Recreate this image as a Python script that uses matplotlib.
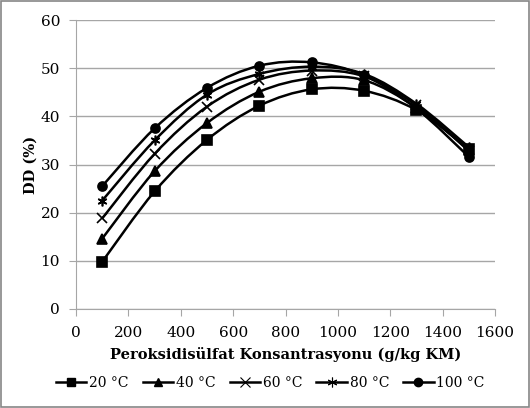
import numpy as np
import matplotlib
matplotlib.use("Agg")
import matplotlib.pyplot as plt
from matplotlib.path import Path
from matplotlib.patches import PathPatch
from matplotlib.lines import Line2D

plt.rcParams['font.family'] = ['DejaVu Serif']

# peroxydisulfate concentration (g/kg KM)
conc = [100, 300, 500, 700, 900, 1100, 1300, 1500]

dd_20 = [9.8, 24.4, 35.1, 42.2, 45.6, 45.3, 41.3, 33.3]
dd_40 = [14.6, 28.6, 38.6, 45.1, 47.9, 47.5, 41.8, 33.0]
dd_60 = [18.8, 32.2, 42.0, 47.6, 49.5, 48.3, 42.3, 32.8]
dd_80 = [22.5, 35.0, 44.5, 48.8, 50.3, 48.8, 42.6, 33.6]
dd_100 = [25.5, 37.5, 45.9, 50.5, 51.2, 48.5, 41.6, 31.6]

labels = ['20 °C', '40 °C', '60 °C', '80 °C', '100 °C']
series = [dd_20, dd_40, dd_60, dd_80, dd_100]
markers = ['s', '^', 'x', (6, 2, 0), 'o']


def smooth_path(x, y):
    # Catmull-Rom style bezier, like Excel's smoothed line
    pts = np.column_stack([x, y]).astype(float)
    n = len(pts)
    verts = [pts[0]]
    codes = [Path.MOVETO]
    for i in range(n - 1):
        p0 = pts[i - 1] if i > 0 else pts[i]
        p1 = pts[i]
        p2 = pts[i + 1]
        p3 = pts[i + 2] if i + 2 < n else pts[i + 1]
        c1 = p1 + (p2 - p0) / 6.0
        c2 = p2 - (p3 - p1) / 6.0
        verts += [c1, c2, p2]
        codes += [Path.CURVE4] * 3
    return Path(verts, codes)


fig = plt.figure(figsize=(5.3, 4.08), dpi=100)
ax = fig.add_axes([76 / 530, 99 / 408, 419 / 530, 289 / 408])

for vals, m in zip(series, markers):
    ax.add_patch(PathPatch(smooth_path(conc, vals), facecolor='none',
                           edgecolor='black', lw=1.8, zorder=3))
    ms = 6.5 if m in ('s', 'o') else 7
    ax.plot(conc, vals, linestyle='none', marker=m, color='black',
            markersize=ms, markeredgewidth=1.2, zorder=4)

ax.set_xlim(0, 1600)
ax.set_ylim(0, 60)
ax.set_xticks(np.arange(0, 1601, 200))
ax.set_yticks(np.arange(0, 61, 10))
ax.yaxis.grid(True, color='#a6a6a6', lw=1)
ax.set_axisbelow(True)
for s in ['top', 'right']:
    ax.spines[s].set_visible(False)
for s in ['left', 'bottom']:
    ax.spines[s].set_color('#a6a6a6')
ax.tick_params(axis='both', colors='#a6a6a6', labelcolor='black',
               labelsize=11, length=5, direction='out')
ax.tick_params(axis='x', pad=7)
ax.tick_params(axis='y', pad=6.5)

ax.set_ylabel('DD (%)', fontsize=10.5, fontweight='bold', labelpad=2)
ax.set_xlabel('Peroksidisülfat Konsantrasyonu (g/kg KM)', fontsize=10.5,
              fontweight='bold', labelpad=5)

handles = []
for lab, m in zip(labels, markers):
    thin = m in ('x', (6, 2, 0))
    handles.append(Line2D([], [], color='black', lw=1.8, marker=m,
                          markersize=6 if not thin else 7,
                          markeredgewidth=0.8 if thin else 1.0, label=lab))
fig.legend(handles=handles, loc='center', bbox_to_anchor=(0.51, 25 / 408),
           ncol=5, frameon=False, fontsize=10, handlelength=2.2,
           handletextpad=0.2, columnspacing=1.0)

fig.add_artist(plt.Rectangle((0.002, 0.002), 0.996, 0.996,
                             transform=fig.transFigure, fill=False,
                             edgecolor='#868686', lw=1.2))

fig.savefig('out.png', dpi=100)
